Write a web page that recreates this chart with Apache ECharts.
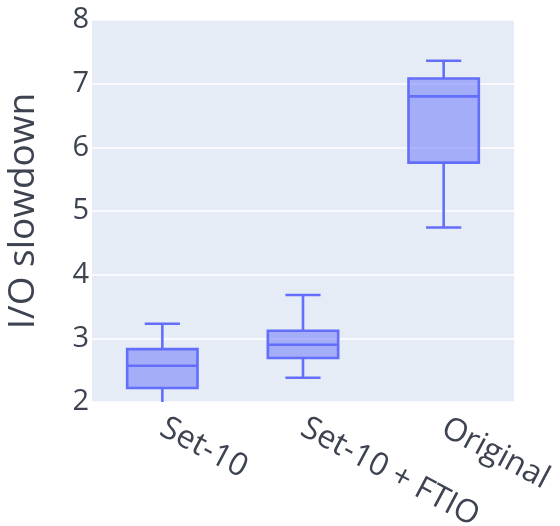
<!DOCTYPE html>
<html>
<head>
<meta charset="utf-8">
<script src="https://cdn.jsdelivr.net/npm/echarts@6/dist/echarts.min.js"></script>
<style>
html,body{margin:0;padding:0;background:#fff;}
#chart{width:560px;height:526px;}
</style>
</head>
<body>
<div id="chart"></div>
<script>
var categories = ['Set-10', 'Set-10 + FTIO', 'Original'];
var whiskerLow = [1.9, 2.38, 4.74];
var q1Values = [2.22, 2.69, 5.76];
var medianValues = [2.57, 2.90, 6.80];
var q3Values = [2.83, 3.12, 7.08];
var whiskerHigh = [3.23, 3.68, 7.36];
var yTicks = [2, 3, 4, 5, 6, 7, 8];

var data = categories.map(function (c, i) {
  return [i, whiskerLow[i], q1Values[i], medianValues[i], q3Values[i], whiskerHigh[i]];
});

var chart = echarts.init(document.getElementById('chart'));
var lineColor = '#636efa';
var textColor = '#3d4350';

function renderBox(params, api) {
  var cs = params.coordSys;
  var idx = api.value(0);
  var band = api.size([1, 0])[0];
  var boxW = band * 0.5;
  var capW = boxW * 0.5;
  var cx = api.coord([idx, api.value(3)])[0];
  var yMin = api.coord([idx, api.value(1)])[1];
  var yQ1 = api.coord([idx, api.value(2)])[1];
  var yMed = api.coord([idx, api.value(3)])[1];
  var yQ3 = api.coord([idx, api.value(4)])[1];
  var yMax = api.coord([idx, api.value(5)])[1];
  var bottom = cs.y + cs.height;
  var top = cs.y;
  var lowClipped = yMin > bottom;
  var yMinC = Math.min(yMin, bottom);
  var yMaxC = Math.max(yMax, top);
  var lw = 2.6;
  var style = { stroke: lineColor, lineWidth: lw, fill: null };
  var children = [
    { type: 'rect', shape: { x: cx - boxW / 2, y: yQ3, width: boxW, height: yQ1 - yQ3 },
      style: { fill: 'rgba(99,110,250,0.5)', stroke: lineColor, lineWidth: lw } },
    { type: 'line', shape: { x1: cx - boxW / 2, y1: yMed, x2: cx + boxW / 2, y2: yMed }, style: style },
    { type: 'line', shape: { x1: cx, y1: yQ3, x2: cx, y2: yMaxC }, style: style },
    { type: 'line', shape: { x1: cx, y1: yQ1, x2: cx, y2: yMinC }, style: style },
    { type: 'line', shape: { x1: cx - capW / 2, y1: yMax, x2: cx + capW / 2, y2: yMax }, style: style }
  ];
  if (!lowClipped) {
    children.push({ type: 'line', shape: { x1: cx - capW / 2, y1: yMin, x2: cx + capW / 2, y2: yMin }, style: style });
  }
  return { type: 'group', children: children };
}

chart.setOption({
  animation: false,
  backgroundColor: '#ffffff',
  textStyle: { fontFamily: 'Open Sans' },
  grid: { left: 92, right: 46, top: 20, bottom: 124, show: true, backgroundColor: '#E5ECF6', borderWidth: 0,
    containLabel: false, outerBoundsMode: 'none' },
  xAxis: {
    type: 'category',
    data: categories,
    axisLine: { show: false },
    axisTick: { show: false },
    splitLine: { show: false },
    axisLabel: { rotate: -28, fontSize: 32, color: textColor, fontFamily: 'Open Sans', margin: 24, interval: 0 }
  },
  yAxis: {
    type: 'value',
    min: 2, max: 8, interval: 1,
    name: 'I/O slowdown',
    nameLocation: 'middle',
    nameGap: 50,
    nameTextStyle: { fontSize: 37, color: textColor, fontFamily: 'Open Sans' },
    axisLine: { show: false },
    axisTick: { show: false },
    splitLine: { show: true, lineStyle: { color: '#ffffff', width: 1.5 } },
    axisLabel: { fontSize: 29, color: textColor, fontFamily: 'Open Sans', margin: 3,
      formatter: function (v) { return yTicks.indexOf(v) >= 0 ? String(v) : ''; } }
  },
  series: [{
    type: 'custom',
    renderItem: renderBox,
    encode: { x: 0, y: [1, 2, 3, 4, 5] },
    data: data
  }]
});
</script>
</body>
</html>
